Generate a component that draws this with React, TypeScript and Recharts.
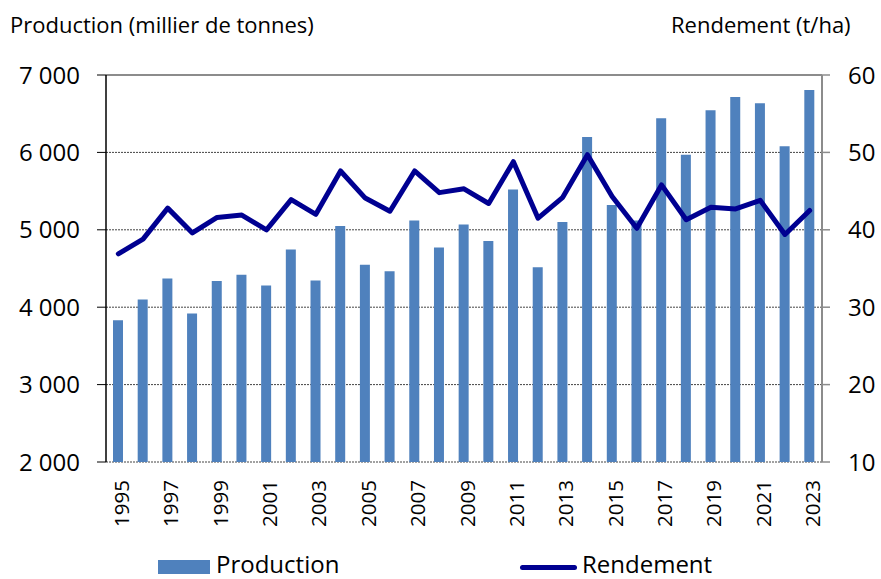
import React from "react";
import {
  ComposedChart,
  Bar,
  Line,
  XAxis,
  YAxis,
  CartesianGrid,
  ReferenceLine,
  Legend,
} from "recharts";

const years = [
  "1995", "1996", "1997", "1998", "1999", "2000", "2001", "2002", "2003", "2004",
  "2005", "2006", "2007", "2008", "2009", "2010", "2011", "2012", "2013", "2014",
  "2015", "2016", "2017", "2018", "2019", "2020", "2021", "2022", "2023",
];

const production = [
  3830, 4100, 4370, 3920, 4340, 4420, 4280, 4745, 4345, 5050,
  4550, 4465, 5120, 4770, 5070, 4855, 5520, 4515, 5100, 6200,
  5320, 5120, 6440, 5970, 6545, 6715, 6635, 6080, 6805,
];

const rendement = [
  36.9, 38.8, 42.8, 39.6, 41.6, 41.9, 40.0, 43.9, 42.0, 47.6,
  44.1, 42.4, 47.6, 44.8, 45.3, 43.4, 48.8, 41.5, 44.2, 49.7,
  44.3, 40.2, 45.8, 41.3, 42.9, 42.7, 43.8, 39.4, 42.5,
];

const leftTicks = [2000, 3000, 4000, 5000, 6000, 7000];
const rightTicks = [10, 20, 30, 40, 50, 60];
const boundaryTicks = years.map((_, i) => i).concat([years.length]);

const data = years.map((y, i) => ({
  year: y,
  production: production[i],
  rendement: rendement[i],
}));

const FONT = "'Open Sans', sans-serif";
const BAR = "#4F81BD";
const LINE = "#000091";

const fmt = (v: number) => {
  const s = String(v);
  return s.length > 3 ? s.slice(0, s.length - 3) + " " + s.slice(-3) : s;
};

const YearTick = (props: any) => {
  const { x, y, payload } = props;
  return (
    <text
      x={x}
      y={y}
      transform={`rotate(-90 ${x} ${y})`}
      textAnchor="end"
      dy={10.5}
      fontSize={20.5}
      fontFamily={FONT}
      fill="#000"
    >
      {payload.value}
    </text>
  );
};

const legendText: React.CSSProperties = {
  position: "absolute",
  top: 4.5,
  lineHeight: "20px",
  height: 20,
  fontSize: 24,
  color: "#000",
  whiteSpace: "nowrap",
};

const LegendContent = () => (
  <div style={{ position: "relative", width: 881, height: 30, fontFamily: FONT }}>
    <div
      style={{ position: "absolute", left: 158, top: 11, width: 52, height: 14, background: BAR }}
    />
    <span style={{ ...legendText, left: 216 }}>Production</span>
    <div
      style={{
        position: "absolute",
        left: 520,
        top: 15.5,
        width: 57,
        height: 5,
        borderRadius: 3,
        background: LINE,
      }}
    />
    <span style={{ ...legendText, left: 582 }}>Rendement</span>
  </div>
);

export default function App() {
  return (
    <div
      style={{
        position: "absolute",
        left: 0,
        top: 0,
        width: 881,
        height: 579,
        background: "#fff",
        fontFamily: FONT,
      }}
    >
      <div
        style={{
          position: "absolute",
          left: 10,
          top: 12.5,
          fontSize: 22,
          lineHeight: "22px",
          color: "#000",
          whiteSpace: "nowrap",
        }}
      >
        Production (millier de tonnes)
      </div>
      <div
        style={{
          position: "absolute",
          left: 671,
          top: 12.5,
          fontSize: 22,
          lineHeight: "22px",
          color: "#000",
          whiteSpace: "nowrap",
        }}
      >
        Rendement (t/ha)
      </div>
      <ComposedChart
        width={881}
        height={579}
        data={data}
        margin={{ top: 75, right: 0, left: 0, bottom: 0 }}
      >
        <CartesianGrid
          yAxisId="left"
          vertical={false}
          stroke="#444"
          strokeDasharray="2 1"
        />
        <XAxis
          xAxisId={0}
          type="number"
          domain={[0, years.length]}
          ticks={boundaryTicks}
          interval={0}
          tick={false}
          height={0}
          tickSize={7}
          axisLine={{ stroke: "#333", strokeWidth: 1.5 }}
          tickLine={{ stroke: "#333", strokeWidth: 1 }}
          allowDataOverflow
        />
        <XAxis
          xAxisId="cat"
          dataKey="year"
          type="category"
          interval={1}
          height={87}
          axisLine={false}
          tickLine={false}
          tickSize={0}
          tickMargin={18}
          tick={<YearTick />}
        />
        <YAxis
          yAxisId="left"
          orientation="left"
          width={106}
          domain={[2000, 7000]}
          ticks={leftTicks}
          interval={0}
          tickFormatter={fmt}
          tickSize={9}
          tickMargin={17}
          axisLine={{ stroke: "#000", strokeWidth: 1.5 }}
          tickLine={{ stroke: "#000", strokeWidth: 1 }}
          tick={{ fontSize: 24, fill: "#000", fontFamily: FONT }}
          allowDataOverflow
        />
        <YAxis
          yAxisId="right"
          orientation="right"
          width={59}
          domain={[10, 60]}
          ticks={rightTicks}
          interval={0}
          tickSize={8}
          tickMargin={18}
          axisLine={{ stroke: "#8c8c8c", strokeWidth: 2 }}
          tickLine={{ stroke: "#8c8c8c", strokeWidth: 1.5 }}
          tick={{ fontSize: 24, fill: "#000", fontFamily: FONT }}
          allowDataOverflow
        />
        <ReferenceLine yAxisId="left" y={7000} stroke="#8c8c8c" strokeWidth={2} />
        <Bar
          xAxisId="cat"
          yAxisId="left"
          dataKey="production"
          name="Production"
          fill={BAR}
          barSize={10}
          isAnimationActive={false}
        />
        <Line
          xAxisId="cat"
          yAxisId="right"
          dataKey="rendement"
          name="Rendement"
          type="linear"
          stroke={LINE}
          strokeWidth={5}
          strokeLinejoin="round"
          strokeLinecap="round"
          dot={false}
          activeDot={false}
          isAnimationActive={false}
        />
        <Legend verticalAlign="bottom" content={<LegendContent />} />
      </ComposedChart>
    </div>
  );
}
